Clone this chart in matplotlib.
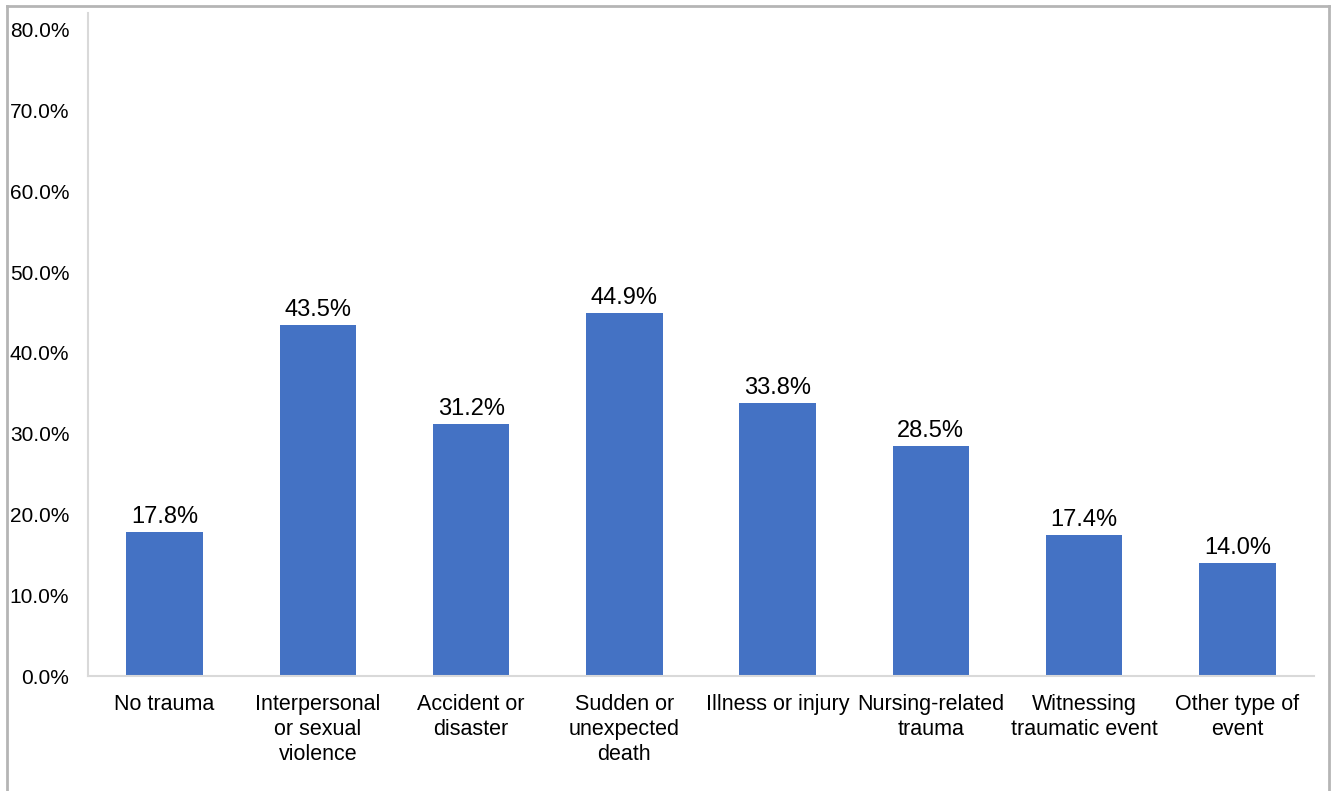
import matplotlib
matplotlib.use("Agg")
import matplotlib.pyplot as plt
from matplotlib.lines import Line2D
from matplotlib.ticker import FuncFormatter

categories = ["No trauma", "Interpersonal\nor sexual\nviolence", "Accident or\ndisaster",
              "Sudden or\nunexpected\ndeath", "Illness or injury", "Nursing-related\ntrauma",
              "Witnessing\ntraumatic event", "Other type of\nevent"]
values = [17.8, 43.5, 31.2, 44.9, 33.8, 28.5, 17.4, 14.0]
yticks = [0, 10, 20, 30, 40, 50, 60, 70, 80]

plt.rcParams['font.family'] = ['Liberation Sans', 'DejaVu Sans']

fig = plt.figure(figsize=(13.36, 7.91), dpi=100)
ax = fig.add_axes([88/1336, 1-676/791, (1314-88)/1336, (676-13)/791])

x = list(range(len(categories)))
ax.bar(x, values, width=0.5, color="#4472C4")
for xi, v in zip(x, values):
    ax.annotate(f"{v:.1f}%", (xi, v), xytext=(0, 3), textcoords="offset points",
                ha="center", va="bottom", fontsize=17, color="black")

ax.set_xlim(-0.5, len(categories) - 0.5)
ax.set_ylim(0, 82.1)
ax.set_yticks(yticks)
ax.yaxis.set_major_formatter(FuncFormatter(lambda v, p: f"{v:.1f}%"))
ax.set_xticks(x)
ax.set_xticklabels(categories, fontsize=15.5, linespacing=1.25, va="top")
ax.tick_params(axis="y", labelsize=15, length=0, pad=13.5)
ax.tick_params(axis="x", length=0, pad=13)

for s in ["top", "right"]:
    ax.spines[s].set_visible(False)
ax.spines["left"].set_color("#d9d9d9")
ax.spines["bottom"].set_color("#d9d9d9")
ax.spines["left"].set_linewidth(1.5)
ax.spines["bottom"].set_linewidth(1.5)

frame_col = "#b5b5b5"
x0, x1 = 7/1336, 1329/1336
yt = 1 - 6/791
fig.add_artist(Line2D([x0, x0], [0, yt], transform=fig.transFigure, color=frame_col, lw=2))
fig.add_artist(Line2D([x0, x1], [yt, yt], transform=fig.transFigure, color=frame_col, lw=2))
fig.add_artist(Line2D([x1, x1], [0, yt], transform=fig.transFigure, color=frame_col, lw=2))

fig.savefig("out.png", dpi=100, facecolor="white")
